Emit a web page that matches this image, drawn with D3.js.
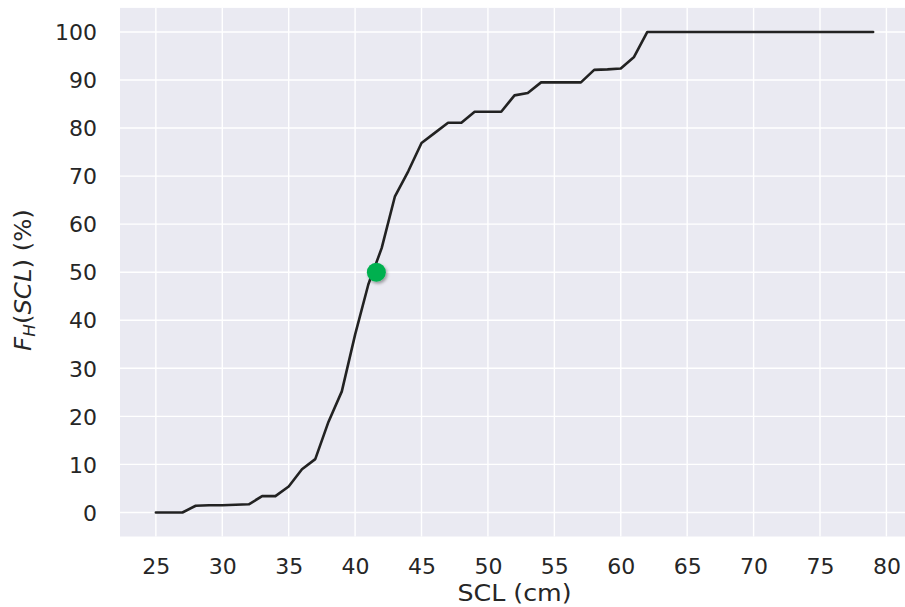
<!DOCTYPE html>
<html>
<head>
<meta charset="utf-8">
<script src="https://cdn.jsdelivr.net/npm/d3@7/dist/d3.min.js"></script>
<style>
  html, body { margin: 0; padding: 0; background: #ffffff; }
  svg { display: block; }
  text { font-family: "DejaVu Sans", sans-serif; fill: #262626; }
</style>
</head>
<body>
<svg id="chart" width="905" height="607"></svg>
<script>
// ---- data ----
const sclValues = [25, 26, 27, 28, 29, 30, 31, 32, 33, 34, 35, 36, 37, 38, 39, 40, 41, 42, 43, 44, 45, 46, 47, 48, 49, 50, 51, 52, 53, 54, 55, 56, 57, 58, 59, 60, 61, 62, 79];
const cdfValues = [0, 0, 0, 1.4, 1.5, 1.5, 1.6, 1.7, 3.4, 3.4, 5.4, 9.0, 11.1, 18.9, 25.2, 37.0, 47.5, 55.0, 65.8, 71.0, 76.9, 79.0, 81.1, 81.1, 83.4, 83.4, 83.4, 86.8, 87.3, 89.5, 89.5, 89.5, 89.5, 92.1, 92.2, 92.4, 94.8, 100, 100];
const medianX = [41.6];
const medianY = [50];
const xTicks = [25, 30, 35, 40, 45, 50, 55, 60, 65, 70, 75, 80];
const yTicks = [0, 10, 20, 30, 40, 50, 60, 70, 80, 90, 100];

const svg = d3.select("#chart");

const x = d3.scaleLinear().domain([22.3, 81.7]).range([120, 909]);
const y = d3.scaleLinear().domain([-5, 105]).range([536.5, 7.9]);

const defs = svg.append("defs");
const f = defs.append("filter").attr("id", "shadow").attr("x", "-50%").attr("y", "-50%").attr("width", "200%").attr("height", "200%");
f.append("feDropShadow").attr("dx", 1.5).attr("dy", 2).attr("stdDeviation", 1.5)
  .attr("flood-color", "#000").attr("flood-opacity", 0.35);

// background
svg.append("rect")
  .attr("x", x.range()[0]).attr("y", y.range()[1])
  .attr("width", x.range()[1] - x.range()[0])
  .attr("height", y.range()[0] - y.range()[1])
  .attr("fill", "#eaeaf2");

// grid
const grid = svg.append("g");
grid.selectAll("line.v").data(xTicks).join("line")
  .attr("x1", d => x(d)).attr("x2", d => x(d))
  .attr("y1", y.range()[1]).attr("y2", y.range()[0])
  .attr("stroke", "#ffffff").attr("stroke-width", 1.4);
grid.selectAll("line.h").data(yTicks).join("line")
  .attr("x1", x.range()[0]).attr("x2", x.range()[1])
  .attr("y1", d => y(d)).attr("y2", d => y(d))
  .attr("stroke", "#ffffff").attr("stroke-width", 1.4);

// axes (tick labels only)
const xAxis = d3.axisBottom(x).tickValues(xTicks).tickSize(0).tickPadding(0);
const gx = svg.append("g").attr("transform", `translate(0, ${y.range()[0]})`).call(xAxis);
gx.select(".domain").remove();
gx.selectAll("text").attr("dy", null).attr("y", 37).attr("font-size", 22)
  .style("font-family", "DejaVu Sans").attr("fill", "#262626");

const yAxis = d3.axisLeft(y).tickValues(yTicks).tickSize(0).tickPadding(0);
const gy = svg.append("g").attr("transform", `translate(${x.range()[0]}, 0)`).call(yAxis);
gy.select(".domain").remove();
gy.selectAll("text").attr("x", -23).attr("dy", "0.35em").attr("font-size", 22)
  .style("font-family", "DejaVu Sans").attr("fill", "#262626");

// line
const data = sclValues.map((v, i) => [v, cdfValues[i]]);
svg.append("path")
  .datum(data)
  .attr("d", d3.line().x(d => x(d[0])).y(d => y(d[1])))
  .attr("fill", "none")
  .attr("stroke", "#222222")
  .attr("stroke-width", 2.6)
  .attr("stroke-linejoin", "round")
  .attr("stroke-linecap", "round");

// median point
svg.selectAll("circle.med").data(medianX.map((v, i) => [v, medianY[i]])).join("circle")
  .attr("cx", d => x(d[0])).attr("cy", d => y(d[1])).attr("r", 9.5)
  .attr("fill", "#00b050").attr("filter", "url(#shadow)");

// axis labels
const cx = (x.range()[0] + x.range()[1]) / 2;
svg.append("text")
  .attr("transform", `translate(${cx}, 601) scale(1.1, 1)`)
  .attr("text-anchor", "middle").attr("font-size", 23)
  .text("SCL (cm)");

const yl = svg.append("text")
  .attr("transform", "translate(31, 280) rotate(-90) scale(1.06, 1)")
  .attr("text-anchor", "middle").attr("font-size", 23);
yl.append("tspan").attr("font-style", "italic").text("F");
yl.append("tspan").attr("font-style", "italic").attr("font-size", 16).attr("dy", 4).text("H");
yl.append("tspan").attr("dy", -4).text("(");
yl.append("tspan").attr("font-style", "italic").text("SCL");
yl.append("tspan").text(") (%)");
</script>
</body>
</html>
